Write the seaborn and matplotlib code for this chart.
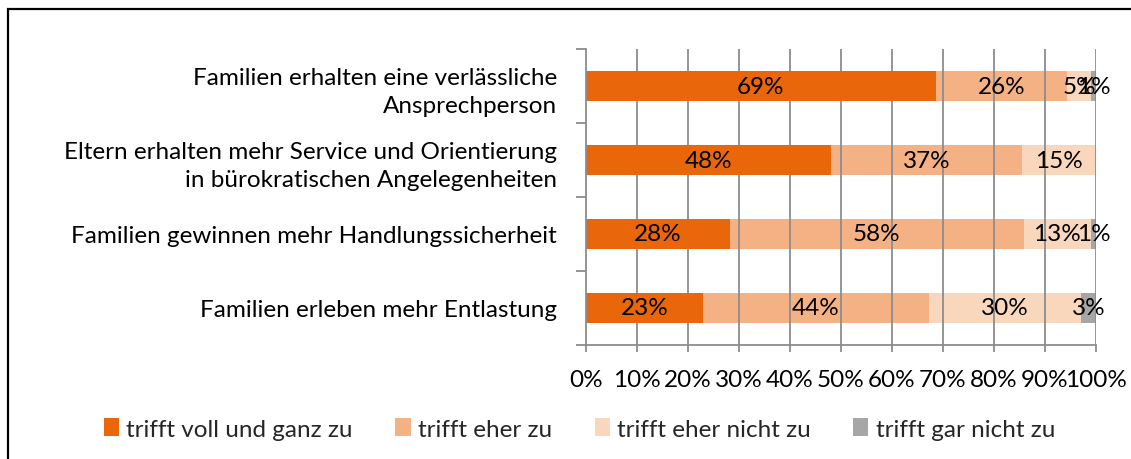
import matplotlib
matplotlib.use("Agg")
import matplotlib.pyplot as plt
import matplotlib.patches as mpatches
import numpy as np
import pandas as pd
import seaborn as sns

# Kategorien (von oben nach unten)
categories = [
    "Familien erhalten eine verlässliche\nAnsprechperson",
    "Eltern erhalten mehr Service und Orientierung\nin bürokratischen Angelegenheiten",
    "Familien gewinnen mehr Handlungssicherheit",
    "Familien erleben mehr Entlastung",
]
series = ["trifft voll und ganz zu", "trifft eher zu", "trifft eher nicht zu", "trifft gar nicht zu"]
voll = [68.6, 48.1, 28.2, 23.0]
eher = [25.8, 37.3, 57.6, 44.2]
eher_nicht = [4.6, 14.6, 13.2, 29.9]
gar_nicht = [1.0, 0.0, 1.0, 2.9]
colors = ["#EA660A", "#F4B183", "#F9D7BC", "#A6A6A6"]
xticks = list(range(0, 101, 10))

sns.set_theme(style="white")
plt.rcParams["font.family"] = ["Lato", "DejaVu Sans"]
FS = 17.5

values = np.array([voll, eher, eher_nicht, gar_nicht])
cum = values.cumsum(axis=0)

fig = plt.figure(figsize=(11.31, 4.6), dpi=100)
ax = fig.add_axes([586 / 1131, 1 - 346 / 460, 510 / 1131, 296 / 460])

# gestapelte Balken: von hinten (Summe) nach vorne zeichnen
for i in range(len(series) - 1, -1, -1):
    df = pd.DataFrame({"kategorie": categories, "wert": cum[i]})
    sns.barplot(data=df, x="wert", y="kategorie", orient="h", color=colors[i],
                width=0.4, saturation=1, ax=ax, zorder=3 if i == 0 else 1,
                linewidth=0)

# Datenbeschriftungen
for i in range(len(series)):
    for j in range(len(categories)):
        v = values[i, j]
        if v <= 0:
            continue
        ax.text(cum[i, j] - v / 2, j, "%d%%" % round(v), ha="center", va="center",
                fontsize=FS, color="black", zorder=5)

ax.set_xlim(0, 100)
ax.set_ylim(len(categories) - 0.5, -0.5)
ax.set_xticks(xticks)
ax.set_xticklabels(["%d%%" % t for t in xticks], fontsize=FS)
ax.set_yticks(range(len(categories)))
ax.set_yticklabels(categories, fontsize=FS, linespacing=1.4, ha="right")
ax.set_yticks(np.arange(-0.5, len(categories), 1), minor=True)
ax.set_xlabel("")
ax.set_ylabel("")

for x in xticks[1:]:
    ax.axvline(x, color="#8C8C8C", linewidth=1.3, zorder=2)

for s in ["top", "right"]:
    ax.spines[s].set_visible(False)
for s in ["left", "bottom"]:
    ax.spines[s].set_color("#8C8C8C")
    ax.spines[s].set_linewidth(1.3)
    ax.spines[s].set_zorder(4)

ax.tick_params(axis="y", which="major", length=0, pad=21, colors="black")
ax.tick_params(axis="y", which="minor", length=7, width=1.3, color="#8C8C8C", left=True)
ax.tick_params(axis="x", which="major", length=5, width=1.3, color="#8C8C8C", bottom=True,
               pad=12, labelcolor="black")

handles = [mpatches.Patch(facecolor=c, edgecolor="none") for c in colors]
fig.legend(handles, series, loc="center", bbox_to_anchor=(579.5 / 1131, 1 - 430 / 460), ncol=4,
           frameon=False, fontsize=FS, handlelength=0.62, handleheight=0.75,
           handletextpad=0.3, columnspacing=1.75)

# Rahmen
fig.add_artist(mpatches.Rectangle((8 / 1131, -0.1), 1.2, 1.1 - 10 / 460,
                                  transform=fig.transFigure, fill=False,
                                  edgecolor="black", linewidth=1.6, clip_on=False))

fig.savefig("out.png", dpi=100)
